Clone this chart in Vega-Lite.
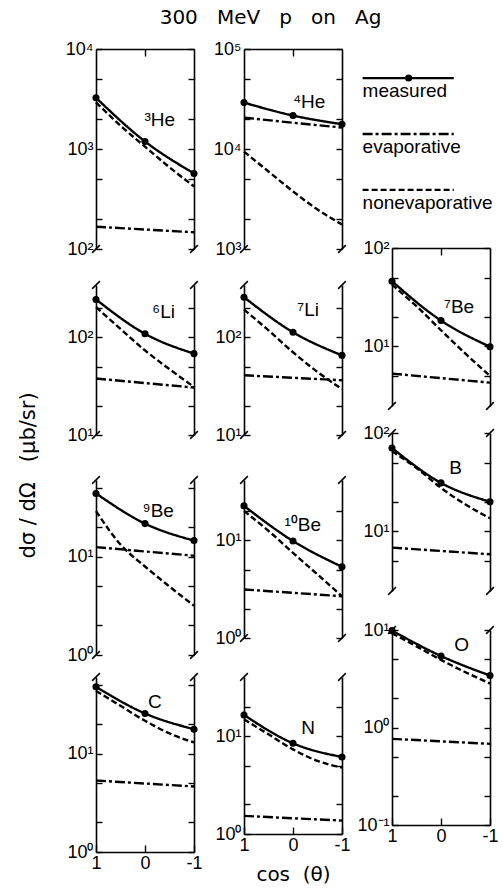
{
  "$schema": "https://vega.github.io/schema/vega-lite/v6.json",
  "background": "white",
  "padding": {"left": 17, "top": 8, "right": 5, "bottom": 5},
  "title": {"text": "300\u00a0\u00a0\u00a0MeV\u00a0\u00a0\u00a0p\u00a0\u00a0\u00a0on\u00a0\u00a0\u00a0Ag", "font": "DejaVu Sans", "fontSize": 20, "fontWeight": "normal", "color": "black", "anchor": "middle", "offset": 12, "dx": 13},
  "config": {
    "font": "Liberation Sans",
    "view": {"stroke": null},
    "axis": {"grid": false, "domainColor": "black", "domainWidth": 1.6, "tickColor": "black", "tickWidth": 1.4, "tickSize": -6, "labelColor": "black", "labelFont": "Liberation Sans", "labelFontSize": 18, "labelPadding": 9, "labelFlush": false, "labelOverlap": false, "titleFont": "DejaVu Sans", "titleFontSize": 20, "titleFontWeight": "normal", "titleColor": "black"}
  },
  "data": {"values": [
    {"p": "3He", "s": "measured", "x": 1, "y": 3250}, {"p": "3He", "s": "measured", "x": 0, "y": 1190}, {"p": "3He", "s": "measured", "x": -1, "y": 570},
    {"p": "3He", "s": "nonevaporative", "x": 1, "y": 2930}, {"p": "3He", "s": "nonevaporative", "x": 0.5, "y": 1710}, {"p": "3He", "s": "nonevaporative", "x": 0, "y": 1055}, {"p": "3He", "s": "nonevaporative", "x": -0.5, "y": 656}, {"p": "3He", "s": "nonevaporative", "x": -1, "y": 423},
    {"p": "3He", "s": "evaporative", "x": 1, "y": 167}, {"p": "3He", "s": "evaporative", "x": -1, "y": 147},

    {"p": "4He", "s": "measured", "x": 1, "y": 29100}, {"p": "4He", "s": "measured", "x": 0, "y": 21600}, {"p": "4He", "s": "measured", "x": -1, "y": 17700},
    {"p": "4He", "s": "evaporative", "x": 1, "y": 20600}, {"p": "4He", "s": "evaporative", "x": 0, "y": 18300}, {"p": "4He", "s": "evaporative", "x": -1, "y": 16400},
    {"p": "4He", "s": "nonevaporative", "x": 1, "y": 9400}, {"p": "4He", "s": "nonevaporative", "x": 0.5, "y": 5960}, {"p": "4He", "s": "nonevaporative", "x": 0, "y": 3770}, {"p": "4He", "s": "nonevaporative", "x": -0.5, "y": 2480}, {"p": "4He", "s": "nonevaporative", "x": -1, "y": 1760},

    {"p": "6Li", "s": "measured", "x": 1, "y": 242}, {"p": "6Li", "s": "measured", "x": 0, "y": 108}, {"p": "6Li", "s": "measured", "x": -1, "y": 67.7},
    {"p": "6Li", "s": "nonevaporative", "x": 1, "y": 202}, {"p": "6Li", "s": "nonevaporative", "x": 0.5, "y": 121}, {"p": "6Li", "s": "nonevaporative", "x": 0, "y": 73}, {"p": "6Li", "s": "nonevaporative", "x": -0.5, "y": 47}, {"p": "6Li", "s": "nonevaporative", "x": -1, "y": 31},
    {"p": "6Li", "s": "evaporative", "x": 1, "y": 37.7}, {"p": "6Li", "s": "evaporative", "x": -1, "y": 30.5},

    {"p": "7Li", "s": "measured", "x": 1, "y": 255}, {"p": "7Li", "s": "measured", "x": 0, "y": 112}, {"p": "7Li", "s": "measured", "x": -1, "y": 65},
    {"p": "7Li", "s": "nonevaporative", "x": 1, "y": 191}, {"p": "7Li", "s": "nonevaporative", "x": 0.5, "y": 117}, {"p": "7Li", "s": "nonevaporative", "x": 0, "y": 70}, {"p": "7Li", "s": "nonevaporative", "x": -0.5, "y": 44}, {"p": "7Li", "s": "nonevaporative", "x": -1, "y": 29.4},
    {"p": "7Li", "s": "evaporative", "x": 1, "y": 40.7}, {"p": "7Li", "s": "evaporative", "x": -1, "y": 36.2},

    {"p": "7Be", "s": "measured", "x": 1, "y": 45.8}, {"p": "7Be", "s": "measured", "x": 0, "y": 18.2}, {"p": "7Be", "s": "measured", "x": -1, "y": 9.85},
    {"p": "7Be", "s": "nonevaporative", "x": 1, "y": 42.3}, {"p": "7Be", "s": "nonevaporative", "x": 0.5, "y": 25.5}, {"p": "7Be", "s": "nonevaporative", "x": 0, "y": 14.5}, {"p": "7Be", "s": "nonevaporative", "x": -0.5, "y": 8.36}, {"p": "7Be", "s": "nonevaporative", "x": -1, "y": 4.95},
    {"p": "7Be", "s": "evaporative", "x": 1, "y": 5.24}, {"p": "7Be", "s": "evaporative", "x": -1, "y": 4.24},

    {"p": "9Be", "s": "measured", "x": 1, "y": 44.5}, {"p": "9Be", "s": "measured", "x": 0, "y": 21.9}, {"p": "9Be", "s": "measured", "x": -1, "y": 14.7},
    {"p": "9Be", "s": "nonevaporative", "x": 1, "y": 29.4}, {"p": "9Be", "s": "nonevaporative", "x": 0.5, "y": 13.4}, {"p": "9Be", "s": "nonevaporative", "x": 0, "y": 8.0}, {"p": "9Be", "s": "nonevaporative", "x": -0.5, "y": 5.0}, {"p": "9Be", "s": "nonevaporative", "x": -1, "y": 3.18},
    {"p": "9Be", "s": "evaporative", "x": 1, "y": 12.6}, {"p": "9Be", "s": "evaporative", "x": -1, "y": 10.3},

    {"p": "10Be", "s": "measured", "x": 1, "y": 22.3}, {"p": "10Be", "s": "measured", "x": 0, "y": 9.77}, {"p": "10Be", "s": "measured", "x": -1, "y": 5.33},
    {"p": "10Be", "s": "nonevaporative", "x": 1, "y": 19.8}, {"p": "10Be", "s": "nonevaporative", "x": 0.5, "y": 12.4}, {"p": "10Be", "s": "nonevaporative", "x": 0, "y": 7.4}, {"p": "10Be", "s": "nonevaporative", "x": -0.5, "y": 4.45}, {"p": "10Be", "s": "nonevaporative", "x": -1, "y": 2.67},
    {"p": "10Be", "s": "evaporative", "x": 1, "y": 3.13}, {"p": "10Be", "s": "evaporative", "x": -1, "y": 2.67},

    {"p": "B", "s": "measured", "x": 1, "y": 70.3}, {"p": "B", "s": "measured", "x": 0, "y": 31}, {"p": "B", "s": "measured", "x": -1, "y": 19.9},
    {"p": "B", "s": "nonevaporative", "x": 1, "y": 65.2}, {"p": "B", "s": "nonevaporative", "x": 0.5, "y": 44}, {"p": "B", "s": "nonevaporative", "x": 0, "y": 27.6}, {"p": "B", "s": "nonevaporative", "x": -0.5, "y": 18.7}, {"p": "B", "s": "nonevaporative", "x": -1, "y": 13.5},
    {"p": "B", "s": "evaporative", "x": 1, "y": 6.78}, {"p": "B", "s": "evaporative", "x": -1, "y": 5.8},

    {"p": "C", "s": "measured", "x": 1, "y": 48.4}, {"p": "C", "s": "measured", "x": 0, "y": 25.9}, {"p": "C", "s": "measured", "x": -1, "y": 17.9},
    {"p": "C", "s": "nonevaporative", "x": 1, "y": 44}, {"p": "C", "s": "nonevaporative", "x": 0.5, "y": 31}, {"p": "C", "s": "nonevaporative", "x": 0, "y": 21.8}, {"p": "C", "s": "nonevaporative", "x": -0.5, "y": 16.2}, {"p": "C", "s": "nonevaporative", "x": -1, "y": 13.1},
    {"p": "C", "s": "evaporative", "x": 1, "y": 5.36}, {"p": "C", "s": "evaporative", "x": -1, "y": 4.66},

    {"p": "N", "s": "measured", "x": 1, "y": 16.4}, {"p": "N", "s": "measured", "x": 0, "y": 8.42}, {"p": "N", "s": "measured", "x": -1, "y": 6.11},
    {"p": "N", "s": "nonevaporative", "x": 1, "y": 14.8}, {"p": "N", "s": "nonevaporative", "x": 0.5, "y": 10.4}, {"p": "N", "s": "nonevaporative", "x": 0, "y": 7.31}, {"p": "N", "s": "nonevaporative", "x": -0.5, "y": 5.57}, {"p": "N", "s": "nonevaporative", "x": -1, "y": 4.77},
    {"p": "N", "s": "evaporative", "x": 1, "y": 1.53}, {"p": "N", "s": "evaporative", "x": -1, "y": 1.37},

    {"p": "O", "s": "measured", "x": 1, "y": 9.85}, {"p": "O", "s": "measured", "x": 0, "y": 5.41}, {"p": "O", "s": "measured", "x": -1, "y": 3.41},
    {"p": "O", "s": "nonevaporative", "x": 1, "y": 9.26}, {"p": "O", "s": "nonevaporative", "x": 0.5, "y": 6.8}, {"p": "O", "s": "nonevaporative", "x": 0, "y": 4.94}, {"p": "O", "s": "nonevaporative", "x": -0.5, "y": 3.69}, {"p": "O", "s": "nonevaporative", "x": -1, "y": 2.82},
    {"p": "O", "s": "evaporative", "x": 1, "y": 0.765}, {"p": "O", "s": "evaporative", "x": -1, "y": 0.68}
  ]},
  "bounds": "flush",
  "spacing": 148,
  "hconcat": [
    {
      "vconcat": [
        {
          "width": 98, "height": 200,
          "layer": [
            {"transform": [{"filter": "datum.p === '3He'"}],
             "mark": {"type": "line", "interpolate": "monotone", "strokeWidth": 2.4, "color": "black"},
             "encoding": {
               "x": {"field": "x", "type": "quantitative", "scale": {"domain": [1, -1]}, "axis": {"orient": "top", "values": [0], "labels": false, "tickSize": -7, "title": null}},
               "y": {"field": "y", "type": "quantitative", "scale": {"type": "log", "domain": [100, 10000]}, "axis": {"orient": "left", "values": [100, 200, 500, 1000, 2000, 5000, 10000], "title": null, "labelExpr": "abs(log(datum.value)/LN10 - round(log(datum.value)/LN10)) < 0.01 ? '10' + ['⁻¹','⁰','¹','²','³','⁴','⁵'][round(log(datum.value)/LN10) + 1] : ''"}},
               "strokeDash": {"field": "s", "type": "nominal", "scale": {"domain": ["measured", "evaporative", "nonevaporative"], "range": [[1, 0], [10, 3, 3, 3], [6, 3]]}, "legend": null}
             }},
            {"transform": [{"filter": "datum.p === '3He' && datum.s === 'measured'"}],
             "mark": {"type": "point", "filled": true, "size": 50, "color": "black", "opacity": 1},
             "encoding": {
               "x": {"field": "x", "type": "quantitative", "scale": {"domain": [1, -1]}},
               "y": {"field": "y", "type": "quantitative", "scale": {"type": "log", "domain": [100, 10000]}, "axis": {"orient": "right", "values": [100, 200, 500, 1000, 2000, 5000, 10000], "labels": false, "title": null}}
             }},
            {"data": {"values": [{"bx": 1, "by": 100}, {"bx": -1, "by": 100}]},
             "mark": {"type": "point", "shape": "M-1,1L1,-1", "size": 60, "filled": false, "stroke": "black", "strokeWidth": 1.5, "opacity": 1},
             "encoding": {
               "x": {"field": "bx", "type": "quantitative", "scale": {"domain": [1, -1]}},
               "y": {"field": "by", "type": "quantitative", "scale": {"type": "log", "domain": [100, 10000]}, "axis": null}
             }},
            {"data": {"values": [{"t": "³He"}]},
             "mark": {"type": "text", "fontSize": 19, "font": "Liberation Sans", "color": "black"},
             "encoding": {
               "x": {"datum": -0.3, "type": "quantitative", "scale": {"domain": [1, -1]}},
               "y": {"datum": 1950, "type": "quantitative", "scale": {"type": "log", "domain": [100, 10000]}, "axis": null},
               "text": {"field": "t"}
             }}
          ],
          "resolve": {"axis": {"y": "independent"}}
        },
        {
          "bounds": "flush",
          "spacing": 45,
          "vconcat": [
            {
              "width": 98, "height": 150,
              "layer": [
                {"transform": [{"filter": "datum.p === '6Li'"}],
                 "mark": {"type": "line", "interpolate": "monotone", "strokeWidth": 2.4, "color": "black"},
                 "encoding": {
                   "x": {"field": "x", "type": "quantitative", "scale": {"domain": [1, -1]}, "axis": null},
                   "y": {"field": "y", "type": "quantitative", "scale": {"type": "log", "domain": [10, 340]}, "axis": {"orient": "left", "values": [10, 20, 50, 100, 200], "title": "dσ\u00a0/\u00a0dΩ\u00a0\u00a0\u00a0(μb/sr)", "titleFontSize": 21, "titleX": -68, "titleY": 190, "titleAngle": -90, "titleAlign": "center", "titleBaseline": "middle", "labelExpr": "abs(log(datum.value)/LN10 - round(log(datum.value)/LN10)) < 0.01 ? '10' + ['⁻¹','⁰','¹','²','³','⁴','⁵'][round(log(datum.value)/LN10) + 1] : ''"}},
                   "strokeDash": {"field": "s", "type": "nominal", "scale": {"domain": ["measured", "evaporative", "nonevaporative"], "range": [[1, 0], [10, 3, 3, 3], [6, 3]]}, "legend": null}
                 }},
                {"transform": [{"filter": "datum.p === '6Li' && datum.s === 'measured'"}],
                 "mark": {"type": "point", "filled": true, "size": 50, "color": "black", "opacity": 1},
                 "encoding": {
                   "x": {"field": "x", "type": "quantitative", "scale": {"domain": [1, -1]}},
                   "y": {"field": "y", "type": "quantitative", "scale": {"type": "log", "domain": [10, 340]}, "axis": {"orient": "right", "values": [10, 20, 50, 100, 200], "labels": false, "title": null}}
                 }},
                {"data": {"values": [{"bx": 1, "by": 10}, {"bx": -1, "by": 10}, {"bx": 1, "by": 340}, {"bx": -1, "by": 340}]},
                 "mark": {"type": "point", "shape": "M-1,1L1,-1", "size": 60, "filled": false, "stroke": "black", "strokeWidth": 1.5, "opacity": 1},
                 "encoding": {
                   "x": {"field": "bx", "type": "quantitative", "scale": {"domain": [1, -1]}},
                   "y": {"field": "by", "type": "quantitative", "scale": {"type": "log", "domain": [10, 340]}, "axis": null}
                 }},
                {"data": {"values": [{"t": "⁶Li"}]},
                 "mark": {"type": "text", "fontSize": 19, "font": "Liberation Sans", "color": "black"},
                 "encoding": {
                   "x": {"datum": -0.38, "type": "quantitative", "scale": {"domain": [1, -1]}},
                   "y": {"datum": 180, "type": "quantitative", "scale": {"type": "log", "domain": [10, 340]}, "axis": null},
                   "text": {"field": "t"}
                 }}
              ],
              "resolve": {"axis": {"y": "independent"}}
            },
            {
              "bounds": "flush",
              "spacing": 22,
              "vconcat": [
                {
                  "width": 98, "height": 175,
                  "layer": [
                    {"transform": [{"filter": "datum.p === '9Be'"}],
                     "mark": {"type": "line", "interpolate": "monotone", "strokeWidth": 2.4, "color": "black"},
                     "encoding": {
                       "x": {"field": "x", "type": "quantitative", "scale": {"domain": [1, -1]}, "axis": null},
                       "y": {"field": "y", "type": "quantitative", "scale": {"type": "log", "domain": [1, 61]}, "axis": {"orient": "left", "values": [1, 2, 5, 10, 20, 50], "title": null, "labelExpr": "abs(log(datum.value)/LN10 - round(log(datum.value)/LN10)) < 0.01 ? '10' + ['⁻¹','⁰','¹','²','³','⁴','⁵'][round(log(datum.value)/LN10) + 1] : ''"}},
                       "strokeDash": {"field": "s", "type": "nominal", "scale": {"domain": ["measured", "evaporative", "nonevaporative"], "range": [[1, 0], [10, 3, 3, 3], [6, 3]]}, "legend": null}
                     }},
                    {"transform": [{"filter": "datum.p === '9Be' && datum.s === 'measured'"}],
                     "mark": {"type": "point", "filled": true, "size": 50, "color": "black", "opacity": 1},
                     "encoding": {
                       "x": {"field": "x", "type": "quantitative", "scale": {"domain": [1, -1]}},
                       "y": {"field": "y", "type": "quantitative", "scale": {"type": "log", "domain": [1, 61]}, "axis": {"orient": "right", "values": [1, 2, 5, 10, 20, 50], "labels": false, "title": null}}
                     }},
                    {"data": {"values": [{"bx": 1, "by": 1}, {"bx": -1, "by": 1}, {"bx": 1, "by": 61}, {"bx": -1, "by": 61}]},
                     "mark": {"type": "point", "shape": "M-1,1L1,-1", "size": 60, "filled": false, "stroke": "black", "strokeWidth": 1.5, "opacity": 1},
                     "encoding": {
                       "x": {"field": "bx", "type": "quantitative", "scale": {"domain": [1, -1]}},
                       "y": {"field": "by", "type": "quantitative", "scale": {"type": "log", "domain": [1, 61]}, "axis": null}
                     }},
                    {"data": {"values": [{"t": "⁹Be"}]},
                     "mark": {"type": "text", "fontSize": 19, "font": "Liberation Sans", "color": "black"},
                     "encoding": {
                       "x": {"datum": -0.27, "type": "quantitative", "scale": {"domain": [1, -1]}},
                       "y": {"datum": 29.4, "type": "quantitative", "scale": {"type": "log", "domain": [1, 61]}, "axis": null},
                       "text": {"field": "t"}
                     }}
                  ],
                  "resolve": {"axis": {"y": "independent"}}
                },
                {
                  "bounds": "flush",
                  "spacing": 20,
                  "vconcat": [
                    {
                      "width": 98, "height": 175,
                      "layer": [
                        {"transform": [{"filter": "datum.p === 'C'"}],
                         "mark": {"type": "line", "interpolate": "monotone", "strokeWidth": 2.4, "color": "black"},
                         "encoding": {
                           "x": {"field": "x", "type": "quantitative", "scale": {"domain": [1, -1]}, "axis": {"orient": "bottom", "values": [1, 0, -1], "tickSize": -7, "title": null, "labelExpr": "datum.value === -1 ? '-1' : datum.value === 1 ? '1' : '0'"}},
                           "y": {"field": "y", "type": "quantitative", "scale": {"type": "log", "domain": [1, 61]}, "axis": {"orient": "left", "values": [1, 2, 5, 10, 20, 50], "title": null, "labelExpr": "abs(log(datum.value)/LN10 - round(log(datum.value)/LN10)) < 0.01 ? '10' + ['⁻¹','⁰','¹','²','³','⁴','⁵'][round(log(datum.value)/LN10) + 1] : ''"}},
                           "strokeDash": {"field": "s", "type": "nominal", "scale": {"domain": ["measured", "evaporative", "nonevaporative"], "range": [[1, 0], [10, 3, 3, 3], [6, 3]]}, "legend": null}
                         }},
                        {"transform": [{"filter": "datum.p === 'C' && datum.s === 'measured'"}],
                         "mark": {"type": "point", "filled": true, "size": 50, "color": "black", "opacity": 1},
                         "encoding": {
                           "x": {"field": "x", "type": "quantitative", "scale": {"domain": [1, -1]}},
                           "y": {"field": "y", "type": "quantitative", "scale": {"type": "log", "domain": [1, 61]}, "axis": {"orient": "right", "values": [1, 2, 5, 10, 20, 50], "labels": false, "title": null}}
                         }},
                        {"data": {"values": [{"bx": 1, "by": 61}, {"bx": -1, "by": 61}]},
                         "mark": {"type": "point", "shape": "M-1,1L1,-1", "size": 60, "filled": false, "stroke": "black", "strokeWidth": 1.5, "opacity": 1},
                         "encoding": {
                           "x": {"field": "bx", "type": "quantitative", "scale": {"domain": [1, -1]}},
                           "y": {"field": "by", "type": "quantitative", "scale": {"type": "log", "domain": [1, 61]}, "axis": null}
                         }},
                        {"data": {"values": [{"t": "C"}]},
                         "mark": {"type": "text", "fontSize": 19, "font": "Liberation Sans", "color": "black"},
                         "encoding": {
                           "x": {"datum": -0.2, "type": "quantitative", "scale": {"domain": [1, -1]}},
                           "y": {"datum": 34, "type": "quantitative", "scale": {"type": "log", "domain": [1, 61]}, "axis": null},
                           "text": {"field": "t"}
                         }}
                      ],
                      "resolve": {"axis": {"y": "independent"}}
                    }
                  ]
                }
              ]
            }
          ]
        }
      ]
    },
    {
      "vconcat": [
        {
          "width": 98, "height": 200,
          "layer": [
            {"transform": [{"filter": "datum.p === '4He'"}],
             "mark": {"type": "line", "interpolate": "monotone", "strokeWidth": 2.4, "color": "black"},
             "encoding": {
               "x": {"field": "x", "type": "quantitative", "scale": {"domain": [1, -1]}, "axis": {"orient": "top", "values": [0], "labels": false, "tickSize": -7, "title": null}},
               "y": {"field": "y", "type": "quantitative", "scale": {"type": "log", "domain": [1000, 100000]}, "axis": {"orient": "left", "values": [1000, 2000, 5000, 10000, 20000, 50000, 100000], "title": null, "labelExpr": "abs(log(datum.value)/LN10 - round(log(datum.value)/LN10)) < 0.01 ? '10' + ['⁻¹','⁰','¹','²','³','⁴','⁵'][round(log(datum.value)/LN10) + 1] : ''"}},
               "strokeDash": {"field": "s", "type": "nominal", "scale": {"domain": ["measured", "evaporative", "nonevaporative"], "range": [[1, 0], [10, 3, 3, 3], [6, 3]]}, "legend": null}
             }},
            {"transform": [{"filter": "datum.p === '4He' && datum.s === 'measured'"}],
             "mark": {"type": "point", "filled": true, "size": 50, "color": "black", "opacity": 1},
             "encoding": {
               "x": {"field": "x", "type": "quantitative", "scale": {"domain": [1, -1]}},
               "y": {"field": "y", "type": "quantitative", "scale": {"type": "log", "domain": [1000, 100000]}, "axis": {"orient": "right", "values": [1000, 2000, 5000, 10000, 20000, 50000, 100000], "labels": false, "title": null}}
             }},
            {"data": {"values": [{"bx": 1, "by": 1000}, {"bx": -1, "by": 1000}]},
             "mark": {"type": "point", "shape": "M-1,1L1,-1", "size": 60, "filled": false, "stroke": "black", "strokeWidth": 1.5, "opacity": 1},
             "encoding": {
               "x": {"field": "bx", "type": "quantitative", "scale": {"domain": [1, -1]}},
               "y": {"field": "by", "type": "quantitative", "scale": {"type": "log", "domain": [1000, 100000]}, "axis": null}
             }},
            {"data": {"values": [{"t": "⁴He"}]},
             "mark": {"type": "text", "fontSize": 19, "font": "Liberation Sans", "color": "black"},
             "encoding": {
               "x": {"datum": -0.33, "type": "quantitative", "scale": {"domain": [1, -1]}},
               "y": {"datum": 29200, "type": "quantitative", "scale": {"type": "log", "domain": [1000, 100000]}, "axis": null},
               "text": {"field": "t"}
             }}
          ],
          "resolve": {"axis": {"y": "independent"}}
        },
        {
          "bounds": "flush",
          "spacing": 45,
          "vconcat": [
            {
              "width": 98, "height": 150,
              "layer": [
                {"transform": [{"filter": "datum.p === '7Li'"}],
                 "mark": {"type": "line", "interpolate": "monotone", "strokeWidth": 2.4, "color": "black"},
                 "encoding": {
                   "x": {"field": "x", "type": "quantitative", "scale": {"domain": [1, -1]}, "axis": null},
                   "y": {"field": "y", "type": "quantitative", "scale": {"type": "log", "domain": [10, 340]}, "axis": {"orient": "left", "values": [10, 20, 50, 100, 200], "title": null, "labelExpr": "abs(log(datum.value)/LN10 - round(log(datum.value)/LN10)) < 0.01 ? '10' + ['⁻¹','⁰','¹','²','³','⁴','⁵'][round(log(datum.value)/LN10) + 1] : ''"}},
                   "strokeDash": {"field": "s", "type": "nominal", "scale": {"domain": ["measured", "evaporative", "nonevaporative"], "range": [[1, 0], [10, 3, 3, 3], [6, 3]]}, "legend": null}
                 }},
                {"transform": [{"filter": "datum.p === '7Li' && datum.s === 'measured'"}],
                 "mark": {"type": "point", "filled": true, "size": 50, "color": "black", "opacity": 1},
                 "encoding": {
                   "x": {"field": "x", "type": "quantitative", "scale": {"domain": [1, -1]}},
                   "y": {"field": "y", "type": "quantitative", "scale": {"type": "log", "domain": [10, 340]}, "axis": {"orient": "right", "values": [10, 20, 50, 100, 200], "labels": false, "title": null}}
                 }},
                {"data": {"values": [{"bx": 1, "by": 10}, {"bx": -1, "by": 10}, {"bx": 1, "by": 340}, {"bx": -1, "by": 340}]},
                 "mark": {"type": "point", "shape": "M-1,1L1,-1", "size": 60, "filled": false, "stroke": "black", "strokeWidth": 1.5, "opacity": 1},
                 "encoding": {
                   "x": {"field": "bx", "type": "quantitative", "scale": {"domain": [1, -1]}},
                   "y": {"field": "by", "type": "quantitative", "scale": {"type": "log", "domain": [10, 340]}, "axis": null}
                 }},
                {"data": {"values": [{"t": "⁷Li"}]},
                 "mark": {"type": "text", "fontSize": 19, "font": "Liberation Sans", "color": "black"},
                 "encoding": {
                   "x": {"datum": -0.31, "type": "quantitative", "scale": {"domain": [1, -1]}},
                   "y": {"datum": 189, "type": "quantitative", "scale": {"type": "log", "domain": [10, 340]}, "axis": null},
                   "text": {"field": "t"}
                 }}
              ],
              "resolve": {"axis": {"y": "independent"}}
            },
            {
              "bounds": "flush",
              "spacing": 39,
              "vconcat": [
                {
                  "width": 98, "height": 158,
                  "layer": [
                    {"transform": [{"filter": "datum.p === '10Be'"}],
                     "mark": {"type": "line", "interpolate": "monotone", "strokeWidth": 2.4, "color": "black"},
                     "encoding": {
                       "x": {"field": "x", "type": "quantitative", "scale": {"domain": [1, -1]}, "axis": null},
                       "y": {"field": "y", "type": "quantitative", "scale": {"type": "log", "domain": [1, 41]}, "axis": {"orient": "left", "values": [1, 2, 5, 10, 20], "title": null, "labelExpr": "abs(log(datum.value)/LN10 - round(log(datum.value)/LN10)) < 0.01 ? '10' + ['⁻¹','⁰','¹','²','³','⁴','⁵'][round(log(datum.value)/LN10) + 1] : ''"}},
                       "strokeDash": {"field": "s", "type": "nominal", "scale": {"domain": ["measured", "evaporative", "nonevaporative"], "range": [[1, 0], [10, 3, 3, 3], [6, 3]]}, "legend": null}
                     }},
                    {"transform": [{"filter": "datum.p === '10Be' && datum.s === 'measured'"}],
                     "mark": {"type": "point", "filled": true, "size": 50, "color": "black", "opacity": 1},
                     "encoding": {
                       "x": {"field": "x", "type": "quantitative", "scale": {"domain": [1, -1]}},
                       "y": {"field": "y", "type": "quantitative", "scale": {"type": "log", "domain": [1, 41]}, "axis": {"orient": "right", "values": [1, 2, 5, 10, 20], "labels": false, "title": null}}
                     }},
                    {"data": {"values": [{"bx": 1, "by": 1}, {"bx": -1, "by": 1}, {"bx": 1, "by": 41}, {"bx": -1, "by": 41}]},
                     "mark": {"type": "point", "shape": "M-1,1L1,-1", "size": 60, "filled": false, "stroke": "black", "strokeWidth": 1.5, "opacity": 1},
                     "encoding": {
                       "x": {"field": "bx", "type": "quantitative", "scale": {"domain": [1, -1]}},
                       "y": {"field": "by", "type": "quantitative", "scale": {"type": "log", "domain": [1, 41]}, "axis": null}
                     }},
                    {"data": {"values": [{"t": "¹⁰Be"}]},
                     "mark": {"type": "text", "fontSize": 19, "font": "Liberation Sans", "color": "black"},
                     "encoding": {
                       "x": {"datum": -0.2, "type": "quantitative", "scale": {"domain": [1, -1]}},
                       "y": {"datum": 14.2, "type": "quantitative", "scale": {"type": "log", "domain": [1, 41]}, "axis": null},
                       "text": {"field": "t"}
                     }}
                  ],
                  "resolve": {"axis": {"y": "independent"}}
                },
                {
                  "bounds": "flush",
                  "spacing": 38,
                  "vconcat": [
                    {
                      "width": 98, "height": 157,
                      "layer": [
                        {"transform": [{"filter": "datum.p === 'N'"}],
                         "mark": {"type": "line", "interpolate": "monotone", "strokeWidth": 2.4, "color": "black"},
                         "encoding": {
                           "x": {"field": "x", "type": "quantitative", "scale": {"domain": [1, -1]}, "axis": {"orient": "bottom", "values": [1, 0, -1], "tickSize": -7, "title": "cos\u00a0\u00a0(θ)", "titlePadding": 10, "labelExpr": "datum.value === -1 ? '-1' : datum.value === 1 ? '1' : '0'"}},
                           "y": {"field": "y", "type": "quantitative", "scale": {"type": "log", "domain": [1, 40]}, "axis": {"orient": "left", "values": [1, 2, 5, 10, 20], "title": null, "labelExpr": "abs(log(datum.value)/LN10 - round(log(datum.value)/LN10)) < 0.01 ? '10' + ['⁻¹','⁰','¹','²','³','⁴','⁵'][round(log(datum.value)/LN10) + 1] : ''"}},
                           "strokeDash": {"field": "s", "type": "nominal", "scale": {"domain": ["measured", "evaporative", "nonevaporative"], "range": [[1, 0], [10, 3, 3, 3], [6, 3]]}, "legend": null}
                         }},
                        {"transform": [{"filter": "datum.p === 'N' && datum.s === 'measured'"}],
                         "mark": {"type": "point", "filled": true, "size": 50, "color": "black", "opacity": 1},
                         "encoding": {
                           "x": {"field": "x", "type": "quantitative", "scale": {"domain": [1, -1]}},
                           "y": {"field": "y", "type": "quantitative", "scale": {"type": "log", "domain": [1, 40]}, "axis": {"orient": "right", "values": [1, 2, 5, 10, 20], "labels": false, "title": null}}
                         }},
                        {"data": {"values": [{"bx": 1, "by": 40}, {"bx": -1, "by": 40}]},
                         "mark": {"type": "point", "shape": "M-1,1L1,-1", "size": 60, "filled": false, "stroke": "black", "strokeWidth": 1.5, "opacity": 1},
                         "encoding": {
                           "x": {"field": "bx", "type": "quantitative", "scale": {"domain": [1, -1]}},
                           "y": {"field": "by", "type": "quantitative", "scale": {"type": "log", "domain": [1, 40]}, "axis": null}
                         }},
                        {"data": {"values": [{"t": "N"}]},
                         "mark": {"type": "text", "fontSize": 19, "font": "Liberation Sans", "color": "black"},
                         "encoding": {
                           "x": {"datum": -0.31, "type": "quantitative", "scale": {"domain": [1, -1]}},
                           "y": {"datum": 12, "type": "quantitative", "scale": {"type": "log", "domain": [1, 40]}, "axis": null},
                           "text": {"field": "t"}
                         }}
                      ],
                      "resolve": {"axis": {"y": "independent"}}
                    }
                  ]
                }
              ]
            }
          ]
        }
      ]
    },
    {
      "vconcat": [
        {
          "width": 98, "height": 170,
          "layer": [
            {"data": {"values": [{"s": "measured"}, {"s": "evaporative"}, {"s": "nonevaporative"}]},
             "mark": {"type": "rule", "strokeWidth": 2.4, "color": "black"},
             "encoding": {
               "x": {"datum": -0.3, "type": "quantitative", "scale": {"domain": [0, 1]}, "axis": null},
               "x2": {"datum": 0.63},
               "y": {"field": "s", "type": "nominal", "scale": {"type": "point", "domain": ["measured", "evaporative", "nonevaporative"], "padding": 0.52}, "axis": null},
               "strokeDash": {"field": "s", "type": "nominal", "scale": {"domain": ["measured", "evaporative", "nonevaporative"], "range": [[1, 0], [10, 3, 3, 3], [6, 3]]}, "legend": null}
             }},
            {"data": {"values": [{"s": "measured"}]},
             "mark": {"type": "point", "filled": true, "size": 50, "color": "black", "opacity": 1},
             "encoding": {
               "x": {"datum": 0.17, "type": "quantitative", "scale": {"domain": [0, 1]}},
               "y": {"field": "s", "type": "nominal", "scale": {"type": "point", "domain": ["measured", "evaporative", "nonevaporative"], "padding": 0.52}, "axis": null}
             }},
            {"data": {"values": [{"s": "measured"}, {"s": "evaporative"}, {"s": "nonevaporative"}]},
             "mark": {"type": "text", "align": "left", "baseline": "middle", "dy": 13, "fontSize": 19, "font": "Liberation Sans", "color": "black"},
             "encoding": {
               "x": {"datum": -0.3, "type": "quantitative", "scale": {"domain": [0, 1]}},
               "y": {"field": "s", "type": "nominal", "scale": {"type": "point", "domain": ["measured", "evaporative", "nonevaporative"], "padding": 0.52}, "axis": null},
               "text": {"field": "s"}
             }}
          ]
        },
        {
          "bounds": "flush",
          "spacing": 27,
          "vconcat": [
            {
              "width": 98, "height": 158,
              "layer": [
                {"transform": [{"filter": "datum.p === '7Be'"}],
                 "mark": {"type": "line", "interpolate": "monotone", "strokeWidth": 2.4, "color": "black"},
                 "encoding": {
                   "x": {"field": "x", "type": "quantitative", "scale": {"domain": [1, -1]}, "axis": {"orient": "top", "values": [0], "labels": false, "tickSize": -7, "title": null}},
                   "y": {"field": "y", "type": "quantitative", "scale": {"type": "log", "domain": [2.45, 100]}, "axis": {"orient": "left", "values": [5, 10, 20, 50, 100], "title": null, "labelExpr": "abs(log(datum.value)/LN10 - round(log(datum.value)/LN10)) < 0.01 ? '10' + ['⁻¹','⁰','¹','²','³','⁴','⁵'][round(log(datum.value)/LN10) + 1] : ''"}},
                   "strokeDash": {"field": "s", "type": "nominal", "scale": {"domain": ["measured", "evaporative", "nonevaporative"], "range": [[1, 0], [10, 3, 3, 3], [6, 3]]}, "legend": null}
                 }},
                {"transform": [{"filter": "datum.p === '7Be' && datum.s === 'measured'"}],
                 "mark": {"type": "point", "filled": true, "size": 50, "color": "black", "opacity": 1},
                 "encoding": {
                   "x": {"field": "x", "type": "quantitative", "scale": {"domain": [1, -1]}},
                   "y": {"field": "y", "type": "quantitative", "scale": {"type": "log", "domain": [2.45, 100]}, "axis": {"orient": "right", "values": [5, 10, 20, 50, 100], "labels": false, "title": null}}
                 }},
                {"data": {"values": [{"bx": 1, "by": 2.45}, {"bx": -1, "by": 2.45}]},
                 "mark": {"type": "point", "shape": "M-1,1L1,-1", "size": 60, "filled": false, "stroke": "black", "strokeWidth": 1.5, "opacity": 1},
                 "encoding": {
                   "x": {"field": "bx", "type": "quantitative", "scale": {"domain": [1, -1]}},
                   "y": {"field": "by", "type": "quantitative", "scale": {"type": "log", "domain": [2.45, 100]}, "axis": null}
                 }},
                {"data": {"values": [{"t": "⁷Be"}]},
                 "mark": {"type": "text", "fontSize": 19, "font": "Liberation Sans", "color": "black"},
                 "encoding": {
                   "x": {"datum": -0.37, "type": "quantitative", "scale": {"domain": [1, -1]}},
                   "y": {"datum": 25, "type": "quantitative", "scale": {"type": "log", "domain": [2.45, 100]}, "axis": null},
                   "text": {"field": "t"}
                 }}
              ],
              "resolve": {"axis": {"y": "independent"}}
            },
            {
              "bounds": "flush",
              "spacing": 39,
              "vconcat": [
                {
                  "width": 98, "height": 158,
                  "layer": [
                    {"transform": [{"filter": "datum.p === 'B'"}],
                     "mark": {"type": "line", "interpolate": "monotone", "strokeWidth": 2.4, "color": "black"},
                     "encoding": {
                       "x": {"field": "x", "type": "quantitative", "scale": {"domain": [1, -1]}, "axis": null},
                       "y": {"field": "y", "type": "quantitative", "scale": {"type": "log", "domain": [2.45, 100]}, "axis": {"orient": "left", "values": [5, 10, 20, 50, 100], "title": null, "labelExpr": "abs(log(datum.value)/LN10 - round(log(datum.value)/LN10)) < 0.01 ? '10' + ['⁻¹','⁰','¹','²','³','⁴','⁵'][round(log(datum.value)/LN10) + 1] : ''"}},
                       "strokeDash": {"field": "s", "type": "nominal", "scale": {"domain": ["measured", "evaporative", "nonevaporative"], "range": [[1, 0], [10, 3, 3, 3], [6, 3]]}, "legend": null}
                     }},
                    {"transform": [{"filter": "datum.p === 'B' && datum.s === 'measured'"}],
                     "mark": {"type": "point", "filled": true, "size": 50, "color": "black", "opacity": 1},
                     "encoding": {
                       "x": {"field": "x", "type": "quantitative", "scale": {"domain": [1, -1]}},
                       "y": {"field": "y", "type": "quantitative", "scale": {"type": "log", "domain": [2.45, 100]}, "axis": {"orient": "right", "values": [5, 10, 20, 50, 100], "labels": false, "title": null}}
                     }},
                    {"data": {"values": [{"bx": 1, "by": 2.45}, {"bx": -1, "by": 2.45}, {"bx": 1, "by": 100}, {"bx": -1, "by": 100}]},
                     "mark": {"type": "point", "shape": "M-1,1L1,-1", "size": 60, "filled": false, "stroke": "black", "strokeWidth": 1.5, "opacity": 1},
                     "encoding": {
                       "x": {"field": "bx", "type": "quantitative", "scale": {"domain": [1, -1]}},
                       "y": {"field": "by", "type": "quantitative", "scale": {"type": "log", "domain": [2.45, 100]}, "axis": null}
                     }},
                    {"data": {"values": [{"t": "B"}]},
                     "mark": {"type": "text", "fontSize": 19, "font": "Liberation Sans", "color": "black"},
                     "encoding": {
                       "x": {"datum": -0.3, "type": "quantitative", "scale": {"domain": [1, -1]}},
                       "y": {"datum": 44, "type": "quantitative", "scale": {"type": "log", "domain": [2.45, 100]}, "axis": null},
                       "text": {"field": "t"}
                     }}
                  ],
                  "resolve": {"axis": {"y": "independent"}}
                },
                {
                  "bounds": "flush",
                  "spacing": 40,
                  "vconcat": [
                    {
                      "width": 98, "height": 195,
                      "layer": [
                        {"transform": [{"filter": "datum.p === 'O'"}],
                         "mark": {"type": "line", "interpolate": "monotone", "strokeWidth": 2.4, "color": "black"},
                         "encoding": {
                           "x": {"field": "x", "type": "quantitative", "scale": {"domain": [1, -1]}, "axis": {"orient": "bottom", "values": [1, 0, -1], "tickSize": -7, "title": null, "labelExpr": "datum.value === -1 ? '-1' : datum.value === 1 ? '1' : '0'"}},
                           "y": {"field": "y", "type": "quantitative", "scale": {"type": "log", "domain": [0.1, 10]}, "axis": {"orient": "left", "values": [0.1, 0.2, 0.5, 1, 2, 5, 10], "title": null, "labelExpr": "abs(log(datum.value)/LN10 - round(log(datum.value)/LN10)) < 0.01 ? '10' + ['⁻¹','⁰','¹','²','³','⁴','⁵'][round(log(datum.value)/LN10) + 1] : ''"}},
                           "strokeDash": {"field": "s", "type": "nominal", "scale": {"domain": ["measured", "evaporative", "nonevaporative"], "range": [[1, 0], [10, 3, 3, 3], [6, 3]]}, "legend": null}
                         }},
                        {"transform": [{"filter": "datum.p === 'O' && datum.s === 'measured'"}],
                         "mark": {"type": "point", "filled": true, "size": 50, "color": "black", "opacity": 1},
                         "encoding": {
                           "x": {"field": "x", "type": "quantitative", "scale": {"domain": [1, -1]}},
                           "y": {"field": "y", "type": "quantitative", "scale": {"type": "log", "domain": [0.1, 10]}, "axis": {"orient": "right", "values": [0.1, 0.2, 0.5, 1, 2, 5, 10], "labels": false, "title": null}}
                         }},
                        {"data": {"values": [{"bx": 1, "by": 10}, {"bx": -1, "by": 10}]},
                         "mark": {"type": "point", "shape": "M-1,1L1,-1", "size": 60, "filled": false, "stroke": "black", "strokeWidth": 1.5, "opacity": 1},
                         "encoding": {
                           "x": {"field": "bx", "type": "quantitative", "scale": {"domain": [1, -1]}},
                           "y": {"field": "by", "type": "quantitative", "scale": {"type": "log", "domain": [0.1, 10]}, "axis": null}
                         }},
                        {"data": {"values": [{"t": "O"}]},
                         "mark": {"type": "text", "fontSize": 19, "font": "Liberation Sans", "color": "black"},
                         "encoding": {
                           "x": {"datum": -0.42, "type": "quantitative", "scale": {"domain": [1, -1]}},
                           "y": {"datum": 7.1, "type": "quantitative", "scale": {"type": "log", "domain": [0.1, 10]}, "axis": null},
                           "text": {"field": "t"}
                         }}
                      ],
                      "resolve": {"axis": {"y": "independent"}}
                    }
                  ]
                }
              ]
            }
          ]
        }
      ]
    }
  ]
}
